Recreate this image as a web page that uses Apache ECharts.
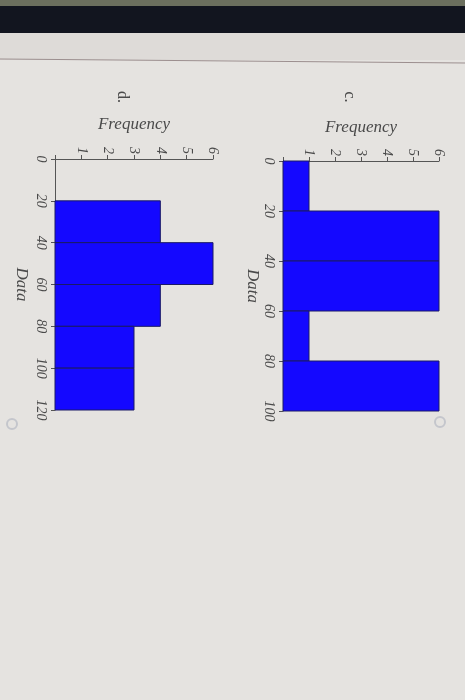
<!DOCTYPE html>
<html>
<head>
<meta charset="utf-8">
<script src="https://cdn.jsdelivr.net/npm/echarts@6/dist/echarts.min.js"></script>
<style>
  html, body { margin: 0; padding: 0; background: #e5e3e0; }
  #chart { width: 465px; height: 700px; }
</style>
</head>
<body>
<div id="chart"></div>
<script>
// histogram c: bin edges and counts
const binsC = [0, 20, 40, 60, 80, 100]
const freqC = [1, 6, 6, 1, 6]
// histogram d
const binsD = [0, 20, 40, 60, 80, 100, 120]
const freqD = [0, 4, 6, 4, 3, 3]

const freqMax = 6
const labelFont = 'Liberation Serif'
const textColor = '#4a4a4a'
const axisColor = '#555'

function toRows(bins, freq) {
  return freq.map((f, i) => [bins[i], bins[i + 1], f])
}

function renderBin(params, api) {
  const lo = api.value(0)
  const hi = api.value(1)
  const f = api.value(2)
  if (!f) return
  const p0 = api.coord([0, lo])
  const p1 = api.coord([f, hi])
  return {
    type: 'rect',
    shape: { x: p0[0], y: p0[1], width: p1[0] - p0[0], height: p1[1] - p0[1] },
    style: { fill: '#1408ff', stroke: '#1a1a66', lineWidth: 1 }
  }
}

function freqAxis(gridIndex, gap) {
  return {
    gridIndex,
    type: 'value',
    position: 'top',
    min: 0,
    max: freqMax,
    interval: 1,
    name: 'Frequency',
    nameLocation: 'middle',
    nameGap: gap,
    nameTextStyle: { fontFamily: labelFont, fontStyle: 'italic', fontSize: 17, color: textColor },
    axisLine: { lineStyle: { color: axisColor, width: 1 } },
    axisTick: { show: true, length: 4, lineStyle: { color: axisColor } },
    splitLine: { show: false },
    axisLabel: {
      rotate: -90,
      margin: 5,
      fontFamily: labelFont,
      fontStyle: 'italic',
      fontSize: 14,
      color: textColor,
      formatter: v => (v === 0 ? '' : v)
    }
  }
}

function dataAxis(gridIndex, max, gap) {
  return {
    gridIndex,
    type: 'value',
    inverse: true,
    min: 0,
    max,
    interval: 20,
    name: 'Data',
    nameLocation: 'middle',
    nameRotate: -90,
    nameGap: gap,
    nameTextStyle: { fontFamily: labelFont, fontStyle: 'italic', fontSize: 17, color: textColor },
    axisLine: { lineStyle: { color: axisColor, width: 1 } },
    axisTick: { show: true, length: 4, lineStyle: { color: axisColor } },
    splitLine: { show: false },
    axisLabel: {
      rotate: -90,
      margin: 7,
      fontFamily: labelFont,
      fontStyle: 'italic',
      fontSize: 14,
      color: textColor
    }
  }
}

const chart = echarts.init(document.getElementById('chart'))

chart.setOption({
  backgroundColor: '#e5e3e0',
  animation: false,
  graphic: [
    { type: 'rect', shape: { x: 0, y: 0, width: 465, height: 6 }, style: { fill: '#6b6f5e' }, z: -1 },
    { type: 'rect', shape: { x: 0, y: 6, width: 465, height: 27 }, style: { fill: '#12151f' }, z: -1 },
    { type: 'rect', shape: { x: 0, y: 33, width: 465, height: 27 }, style: { fill: '#dedbd8' }, z: -1 },
    { type: 'line', shape: { x1: 0, y1: 59, x2: 465, y2: 63 }, style: { stroke: '#9c8f8f', lineWidth: 1 }, z: -1 },
    {
      type: 'text', x: 349, y: 97, rotation: -Math.PI / 2,
      style: { text: 'c.', font: '16px Liberation Serif', fill: textColor, align: 'center', verticalAlign: 'middle' }
    },
    {
      type: 'text', x: 122, y: 97, rotation: -Math.PI / 2,
      style: { text: 'd.', font: '16px Liberation Serif', fill: textColor, align: 'center', verticalAlign: 'middle' }
    },
    { type: 'circle', shape: { cx: 440, cy: 422, r: 5 }, style: { fill: 'none', stroke: '#c4c6cc', lineWidth: 2 } },
    { type: 'circle', shape: { cx: 12, cy: 424, r: 5 }, style: { fill: 'none', stroke: '#c4c6cc', lineWidth: 2 } }
  ],
  grid: [
    { left: 283, top: 161, width: 156, height: 250 },
    { left: 55, top: 159, width: 158, height: 251 }
  ],
  xAxis: [freqAxis(0, 25), freqAxis(1, 26)],
  yAxis: [dataAxis(0, 100, 22), dataAxis(1, 120, 25)],
  series: [
    {
      type: 'custom',
      xAxisIndex: 0,
      yAxisIndex: 0,
      renderItem: renderBin,
      encode: { x: 2, y: [0, 1] },
      data: toRows(binsC, freqC)
    },
    {
      type: 'custom',
      xAxisIndex: 1,
      yAxisIndex: 1,
      renderItem: renderBin,
      encode: { x: 2, y: [0, 1] },
      data: toRows(binsD, freqD)
    }
  ]
})
</script>
</body>
</html>
